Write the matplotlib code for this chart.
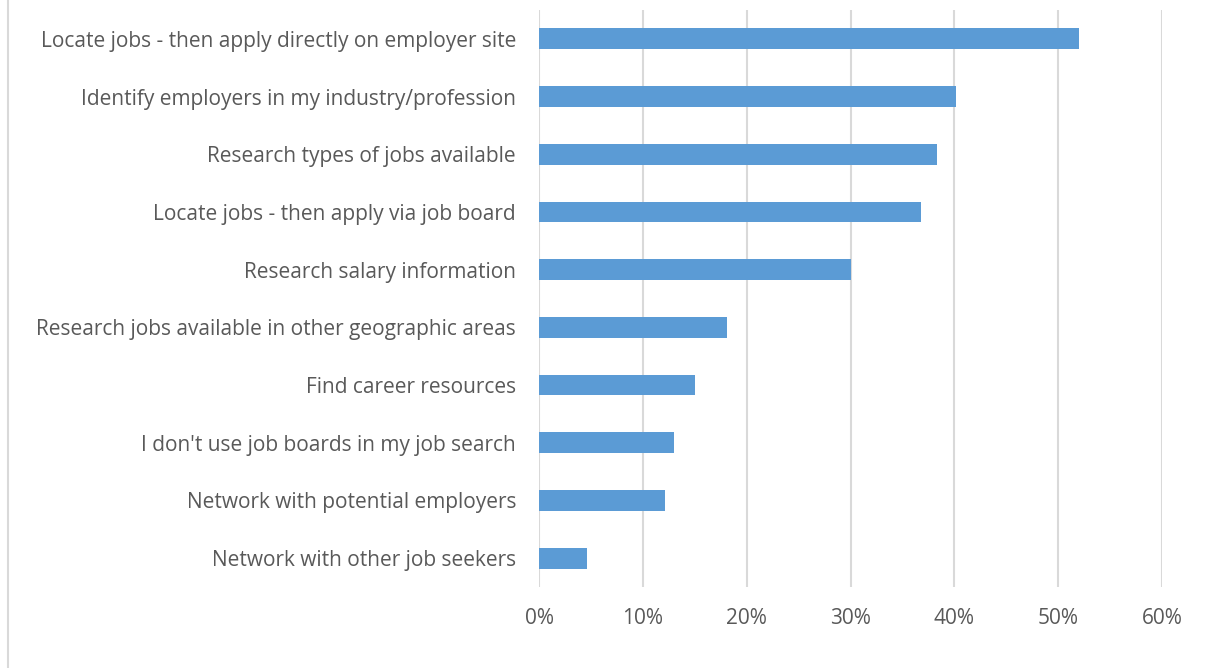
import matplotlib.pyplot as plt
from matplotlib.lines import Line2D

# Ways respondents use job boards (share of respondents)
tasks = [
    "Locate jobs - then apply directly on employer site",
    "Identify employers in my industry/profession",
    "Research types of jobs available",
    "Locate jobs - then apply via job board",
    "Research salary information",
    "Research jobs available in other geographic areas",
    "Find career resources",
    "I don't use job boards in my job search",
    "Network with potential employers",
    "Network with other job seekers",
]
shares = [0.520, 0.402, 0.383, 0.368, 0.300, 0.181, 0.150, 0.130, 0.121, 0.046]
ticks = [0, 0.1, 0.2, 0.3, 0.4, 0.5, 0.6]

text_col = "#595959"
grid_col = "#d9d9d9"
bar_col = "#5b9bd5"

W, H = 1207, 668
fig = plt.figure(figsize=(W / 100, H / 100), dpi=100)
ax = fig.add_axes([539 / W, 1 - 587 / H, (1162 - 539) / W, (587 - 10) / H])

ypos = list(range(len(tasks)))
ax.barh(ypos, shares, height=0.36, color=bar_col, zorder=3)
ax.set_ylim(len(tasks) - 0.5, -0.5)
ax.set_xlim(0, 0.6)

ax.set_xticks(ticks)
ax.set_xticklabels([f"{int(round(t * 100))}%" for t in ticks])
ax.set_yticks(ypos)
ax.set_yticklabels(tasks)

for lbl in ax.get_xticklabels() + ax.get_yticklabels():
    lbl.set_fontfamily("Open Sans")
    lbl.set_fontsize(15)
    lbl.set_color(text_col)

ax.tick_params(axis="both", length=0)
ax.tick_params(axis="x", pad=15)
ax.tick_params(axis="y", pad=16.5)
ax.grid(axis="x", color=grid_col, linewidth=1.5, zorder=0)
for s in ax.spines.values():
    s.set_visible(False)

# chart frame edge on the left
fig.add_artist(Line2D([7.5 / W, 7.5 / W], [0, 1], color=grid_col, linewidth=1.5))

fig.savefig("out.png", dpi=100)
